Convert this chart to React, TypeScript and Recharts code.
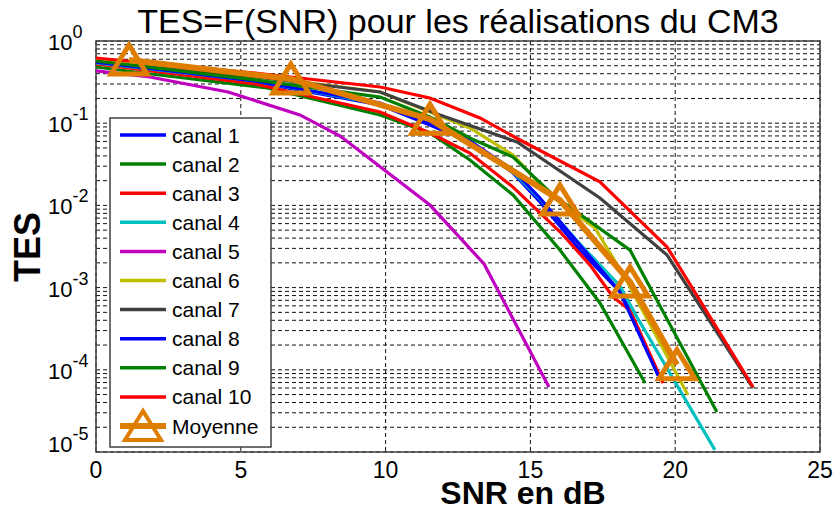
import React from 'react';
import { LineChart, Line, XAxis, YAxis, CartesianGrid, ReferenceArea } from 'recharts';

const FONT = '"Liberation Sans", Arial, Helvetica, sans-serif';

// ---- data (SNR in dB, TES) ----
const canal1X = [0, 5.49, 9.81, 11.53, 12.91, 14.4, 15.33, 16.71, 18.2, 19.48];
const canal1Y = [0.54, 0.317, 0.167, 0.095, 0.059, 0.0248, 0.011, 0.00286, 0.00081, 0.000079];

const canal2X = [0, 1.62, 5.91, 9.81, 11.53, 12.91, 14.4, 16.02, 17.4, 18.96];
const canal2Y = [0.483, 0.408, 0.268, 0.126, 0.076, 0.0357, 0.0134, 0.00286, 0.00065, 0.000069];

const canal3X = [0, 5.49, 9.81, 11.53, 12.91, 14.4, 16.03, 17.06, 17.85, 18.44, 19.58];
const canal3Y = [0.525, 0.3, 0.137, 0.076, 0.0434, 0.0167, 0.00474, 0.00188, 0.00077, 0.00053, 0.000069];

const canal4X = [0, 5.49, 9.81, 11.53, 12.91, 14.4, 15.33, 16.71, 18.09, 18.68, 21.37];
const canal4Y = [0.54, 0.326, 0.171, 0.1035, 0.0607, 0.0255, 0.012, 0.00339, 0.00105, 0.000439, 0.0000106];

const canal5X = [0, 1.86, 4.56, 7.04, 8.43, 11.53, 13.4, 15.64];
const canal5Y = [0.432, 0.365, 0.24, 0.126, 0.0699, 0.0101, 0.00194, 0.0000618];

const canal6X = [0, 5.49, 9.81, 11.53, 12.91, 14.4, 15.68, 17.23, 18.27, 20.44];
const canal6Y = [0.587, 0.375, 0.24, 0.137, 0.0875, 0.041, 0.0134, 0.00531, 0.00131, 0.0000493];

const canal7X = [0, 5.49, 9.81, 11.88, 14.54, 17.4, 19.72, 22.69];
const canal7Y = [0.555, 0.365, 0.24, 0.126, 0.059, 0.0123, 0.00249, 0.00006];

const canal8X = [0, 5.49, 9.81, 11.53, 12.91, 14.4, 15.33, 16.71, 18.09, 19.41];
const canal8Y = [0.555, 0.326, 0.176, 0.1, 0.0607, 0.027, 0.0123, 0.0033, 0.00089, 0.000085];

const canal9X = [0, 5.49, 9.81, 11.53, 12.91, 14.4, 15.78, 18.44, 21.44];
const canal9Y = [0.571, 0.336, 0.208, 0.119, 0.066, 0.0388, 0.0134, 0.00286, 0.0000306];

const canal10X = [0, 5.49, 9.81, 11.53, 13.26, 14.64, 17.4, 19.72, 22.69];
const canal10Y = [0.621, 0.408, 0.276, 0.203, 0.116, 0.0625, 0.0193, 0.00312, 0.0000618];

const moyenneX = [1.14, 6.73, 11.53, 16.02, 18.44, 20.06];
const moyenneY = [0.587, 0.345, 0.112, 0.0116, 0.00117, 0.000115];

const xTicks = [0, 5, 10, 15, 20, 25];
const decades = [-5, -4, -3, -2, -1, 0];
const yTicks: number[] = [];
decades.forEach((d) => {
  if (d === 0) { yTicks.push(1); return; }
  for (let k = 1; k <= 9; k++) yTicks.push(parseFloat((k * Math.pow(10, d)).toPrecision(3)));
});

const TITLE = 'TES=F(SNR) pour les réalisations du CM3';
const XLABEL = 'SNR en dB';
const YLABEL = 'TES';

const ORANGE = '#de7d00';

const toData = (xs: number[], ys: number[]) => xs.map((x, i) => ({ x, y: ys[i] }));

const series = [
  { name: 'canal 1', color: '#0000ff', data: toData(canal1X, canal1Y) },
  { name: 'canal 2', color: '#008000', data: toData(canal2X, canal2Y) },
  { name: 'canal 3', color: '#ff0000', data: toData(canal3X, canal3Y) },
  { name: 'canal 4', color: '#00bfbf', data: toData(canal4X, canal4Y) },
  { name: 'canal 5', color: '#bf00bf', data: toData(canal5X, canal5Y) },
  { name: 'canal 6', color: '#bfbf00', data: toData(canal6X, canal6Y) },
  { name: 'canal 7', color: '#404040', data: toData(canal7X, canal7Y) },
  { name: 'canal 8', color: '#0000ff', data: toData(canal8X, canal8Y) },
  { name: 'canal 9', color: '#008000', data: toData(canal9X, canal9Y) },
  { name: 'canal 10', color: '#ff0000', data: toData(canal10X, canal10Y) },
];
const moyenne = { name: 'Moyenne', color: ORANGE, data: toData(moyenneX, moyenneY) };

const triPath = (cx: number, cy: number) =>
  `M${cx},${cy - 15} L${cx + 18},${cy + 14} L${cx - 18},${cy + 14} Z`;

const TriDot = (props: any) => {
  const { cx, cy, index } = props;
  if (cx == null || cy == null) return <g key={`t${index}`} />;
  return (
    <path key={`t${index}`} d={triPath(cx, cy)} fill="none" stroke={ORANGE} strokeWidth={5} strokeLinejoin="miter" />
  );
};

const XTick = (props: any) => {
  const { x, payload } = props;
  return (
    <text x={x} y={478} textAnchor="middle" fontSize={23} fontFamily={FONT} fill="#000">
      {payload.value}
    </text>
  );
};

const YTick = (props: any) => {
  const { y, payload } = props;
  const v = payload.value as number;
  const e = Math.round(Math.log10(v));
  if (Math.abs(Math.log10(v) - e) > 1e-6) return <g />;
  const base = e === -5 ? y : y + 9;
  return (
    <text x={48} y={base} fontSize={22} fontFamily={FONT} fill="#000">
      10
      <tspan dy={-12} fontSize={18}>{String(e)}</tspan>
    </text>
  );
};

const Legend = () => {
  const left = 110, top = 118, w = 161, h = 329;
  const entries = [...series, moyenne];
  return (
    <g>
      <rect x={left} y={top} width={w} height={h} fill="#fff" stroke="#404040" strokeWidth={1.5} />
      {entries.map((s, i) => {
        const cy = 135 + i * 29.1;
        const isM = s.name === 'Moyenne';
        return (
          <g key={s.name}>
            <line x1={120} x2={166} y1={cy} y2={cy} stroke={s.color} strokeWidth={isM ? 6 : 3.5} />
            {isM && <path d={triPath(143, cy)} fill="none" stroke={ORANGE} strokeWidth={4} />}
            <text x={172} y={cy + 7.5} fontSize={21} fontFamily={FONT} fill="#000">{s.name}</text>
          </g>
        );
      })}
    </g>
  );
};

export default function App() {
  return (
    <div style={{ position: 'absolute', left: 0, top: 0, width: 837, height: 511, background: '#fff' }}>
      <LineChart width={837} height={511} margin={{ top: 41, right: 17, bottom: 0, left: 0 }}>
        <CartesianGrid stroke="#111" strokeDasharray="4 3" strokeWidth={1} />
        <XAxis
          type="number"
          dataKey="x"
          domain={[0, 25]}
          ticks={xTicks}
          allowDataOverflow
          height={59}
          tick={<XTick />}
          tickLine={false}
          axisLine={false}
          interval={0}
        />
        <YAxis
          type="number"
          dataKey="y"
          scale="log"
          domain={[1e-5, 1]}
          ticks={yTicks}
          allowDataOverflow
          width={96}
          tick={<YTick />}
          tickLine={false}
          axisLine={false}
          interval={0}
        />
        {series.map((s) => (
          <Line
            key={s.name}
            data={s.data}
            dataKey="y"
            name={s.name}
            stroke={s.color}
            strokeWidth={3.2}
            dot={false}
            type="linear"
            isAnimationActive={false}
          />
        ))}
        <Line
          data={moyenne.data}
          dataKey="y"
          name={moyenne.name}
          stroke={ORANGE}
          strokeWidth={6}
          dot={TriDot}
          type="linear"
          isAnimationActive={false}
        />
        <ReferenceArea x1={0} x2={25} y1={1e-5} y2={1} fill="none" stroke="#404040" strokeWidth={1.5} ifOverflow="visible" />
        <Legend />
        <text x={458} y={33} textAnchor="middle" fontSize={34} fontFamily={FONT} fill="#000">{TITLE}</text>
        <text x={523} y={504} textAnchor="middle" fontSize={32} fontWeight="bold" fontFamily={FONT} fill="#000">{XLABEL}</text>
        <text x={40} y={247} textAnchor="middle" fontSize={36} fontWeight="bold" fontFamily={FONT} fill="#000" transform="rotate(-90 40 247)">{YLABEL}</text>
      </LineChart>
    </div>
  );
}
